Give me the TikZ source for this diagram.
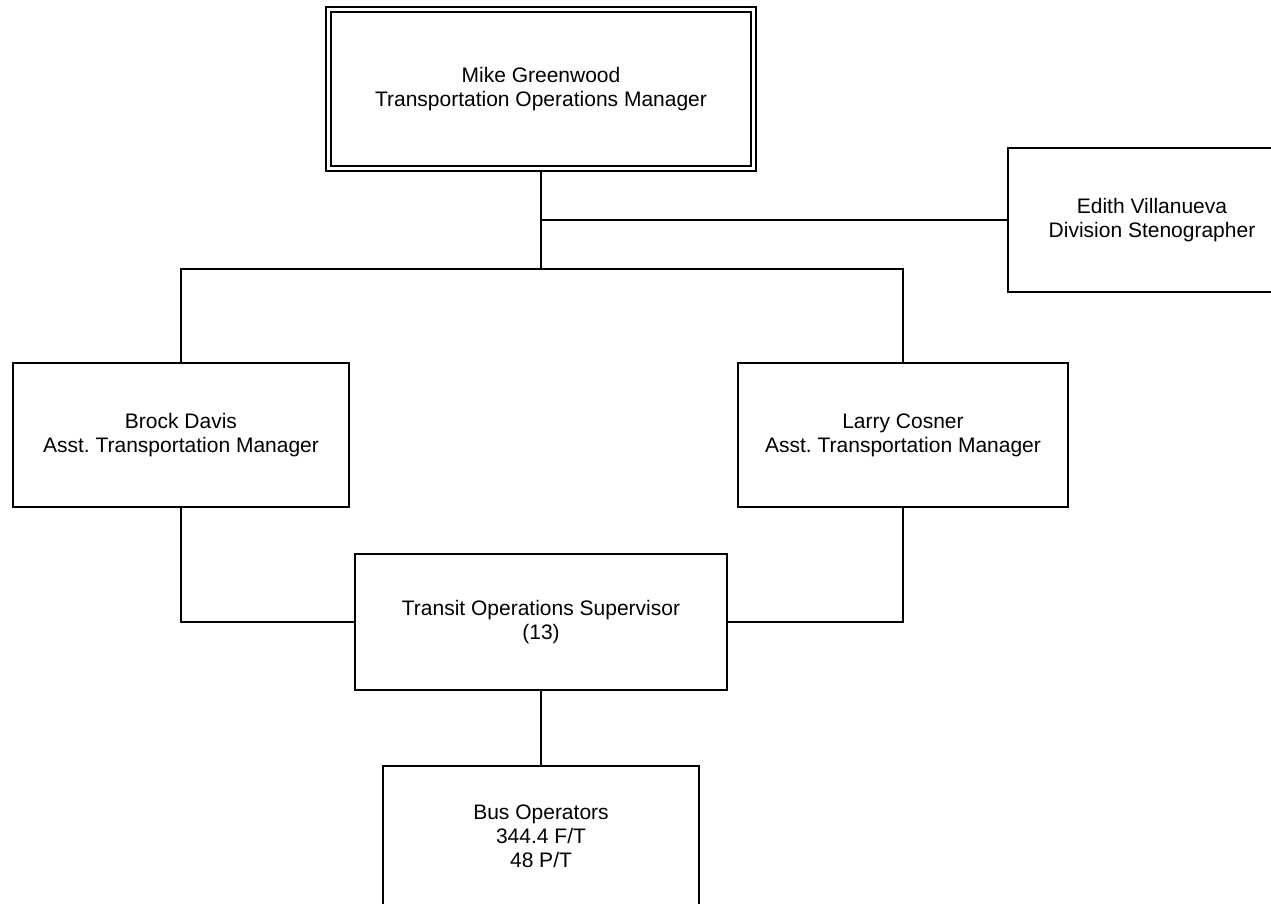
\documentclass[tikz,border=0pt]{standalone}
\usepackage{fontspec}
\setmainfont{Liberation Sans}
\frenchspacing
\begin{document}
\begin{tikzpicture}[x=1pt,y=-1pt,
  box/.style={draw=black, line width=1.5pt, fill=white, rectangle, inner sep=0pt,
    align=center, font=\fontsize{21}{24}\selectfont},
  conn/.style={draw=black, line width=1.5pt}]
\useasboundingbox (0,0) rectangle (1271,904);
\clip (0,0) rectangle (1271,904);
\fill[white] (0,0) rectangle (1271,904);
\coordinate (j) at (541,269);
\node[box, minimum width=425pt, minimum height=159pt, double, double distance=3.5pt, outer sep=3.3pt] (top) at (541,89) {Mike Greenwood\\Transportation Operations Manager};
\node[box, minimum width=288pt, minimum height=144pt] (steno) at (1152,220) {Edith Villanueva\\Division Stenographer};
\node[box, minimum width=336pt, minimum height=144pt] (brock) at (181,435) {Brock Davis\\Asst. Transportation Manager};
\node[box, minimum width=330pt, minimum height=144pt] (larry) at (903,435) {Larry Cosner\\Asst. Transportation Manager};
\node[box, minimum width=372pt, minimum height=136pt] (sup) at (541,622) {Transit Operations Supervisor\\(13)};
\node[box, minimum width=316pt, minimum height=140pt] (bus) at (541,836) {Bus Operators\\344.4 F/T\\48 P/T};
\draw[conn] (top.south) -- (j);
\draw[conn] (top.south |- steno.west) -- (steno.west);
\draw[conn] (brock.north) |- (j) -| (larry.north);
\draw[conn] (brock.south) |- (sup.west);
\draw[conn] (larry.south) |- (sup.east);
\draw[conn] (sup.south) -- (bus.north);
\end{tikzpicture}
\end{document}
